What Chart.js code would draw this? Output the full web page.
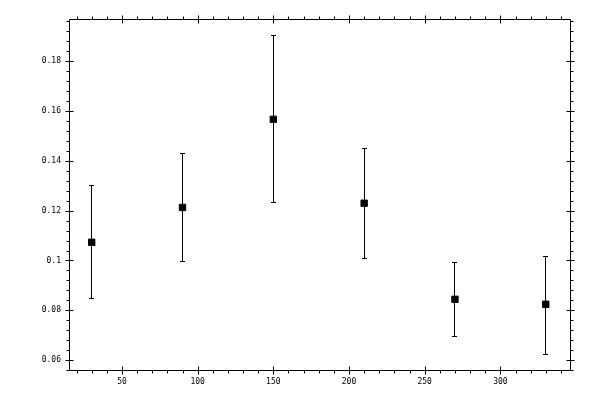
<!DOCTYPE html>
<html>
<head>
<meta charset="utf-8">
<script src="https://cdn.jsdelivr.net/npm/chart.js@4.4.0/dist/chart.umd.min.js"></script>
<style>
  html, body { margin: 0; padding: 0; background: #fff; }
  #wrap { width: 600px; height: 400px; }
</style>
</head>
<body>
<div id="wrap"><canvas id="grafico"></canvas></div>
<script>
// datos
var xVals = [30, 90, 150, 210, 270, 330];
var yVals = [0.1073, 0.1213, 0.1567, 0.1230, 0.0844, 0.0824];
var yHigh = [0.1302, 0.1430, 0.1905, 0.1451, 0.0993, 0.1018];
var yLow  = [0.0849, 0.0998, 0.1234, 0.1009, 0.0695, 0.0625];

// ticks
var xTicks = [50, 100, 150, 200, 250, 300];
var yTicks = [0.06, 0.08, 0.1, 0.12, 0.14, 0.16, 0.18];
var xMinorStep = 10;
var yMinorStep = 0.004;

var puntos = xVals.map(function(x, i) { return {x: x, y: yVals[i]}; });

// barras de error
var barrasError = {
  id: 'barrasError',
  beforeDatasetsDraw: function(chart) {
    var ctx = chart.ctx, xs = chart.scales.x, ys = chart.scales.y;
    ctx.save();
    ctx.strokeStyle = '#000';
    ctx.lineWidth = 1;
    ctx.beginPath();
    for (var i = 0; i < xVals.length; i++) {
      var px = Math.floor(xs.getPixelForValue(xVals[i])) + 0.5;
      var pt = Math.round(ys.getPixelForValue(yHigh[i])) + 0.5;
      var pb = Math.round(ys.getPixelForValue(yLow[i])) + 0.5;
      ctx.moveTo(px, pt); ctx.lineTo(px, pb);
      ctx.moveTo(px - 2.5, pt); ctx.lineTo(px + 2.5, pt);
      ctx.moveTo(px - 2.5, pb); ctx.lineTo(px + 2.5, pb);
    }
    ctx.stroke();
    ctx.restore();
  }
};

// marco y marcas en los cuatro lados
var marco = {
  id: 'marco',
  afterDraw: function(chart) {
    var ctx = chart.ctx, a = chart.chartArea;
    var xs = chart.scales.x, ys = chart.scales.y;
    var L = Math.round(a.left) + 0.5, R = Math.round(a.right) + 0.5;
    var T = Math.round(a.top) + 0.5, B = Math.round(a.bottom) + 0.5;
    ctx.save();
    ctx.strokeStyle = '#000';
    ctx.lineWidth = 1;
    ctx.beginPath();
    ctx.rect(L, T, R - L, B - T);

    // menores x
    var v, p;
    for (v = Math.ceil(xs.min / xMinorStep) * xMinorStep; v <= xs.max; v += xMinorStep) {
      p = Math.round(xs.getPixelForValue(v)) + 0.5;
      ctx.moveTo(p, B); ctx.lineTo(p, B + 3);
      ctx.moveTo(p, T); ctx.lineTo(p, T - 3);
    }
    xTicks.forEach(function(t) {
      p = Math.round(xs.getPixelForValue(t)) + 0.5;
      ctx.moveTo(p, B - 4); ctx.lineTo(p, B + 4);
      ctx.moveTo(p, T - 4); ctx.lineTo(p, T + 4);
    });

    // menores y
    for (var k = Math.ceil(ys.min / yMinorStep); k * yMinorStep <= ys.max; k++) {
      p = Math.round(ys.getPixelForValue(k * yMinorStep)) + 0.5;
      ctx.moveTo(L, p); ctx.lineTo(L - 3, p);
      ctx.moveTo(R, p); ctx.lineTo(R + 3, p);
    }
    yTicks.forEach(function(t) {
      p = Math.round(ys.getPixelForValue(t)) + 0.5;
      ctx.moveTo(L - 4, p); ctx.lineTo(L + 4, p);
      ctx.moveTo(R - 4, p); ctx.lineTo(R + 4, p);
    });
    ctx.stroke();
    ctx.restore();
  }
};

var fuente = { family: 'DejaVu Sans Mono', size: 8 };

var grafico = new Chart(document.getElementById('grafico'), {
  type: 'scatter',
  data: {
    datasets: [{
      data: puntos,
      pointStyle: 'rect',
      pointRadius: 4.5,
      pointHoverRadius: 4.5,
      backgroundColor: '#000',
      borderColor: '#000',
      borderWidth: 1
    }]
  },
  options: {
    responsive: true,
    maintainAspectRatio: false,
    animation: false,
    events: [],
    layout: { padding: { top: 19, right: 30, left: 0, bottom: 0 } },
    plugins: {
      legend: { display: false },
      tooltip: { enabled: false }
    },
    scales: {
      x: {
        type: 'linear',
        min: 15,
        max: 346,
        afterBuildTicks: function(s) { s.ticks = xTicks.map(function(v) { return {value: v}; }); },
        afterFit: function(s) { s.height = 30; },
        grid: { display: false, drawTicks: false },
        border: { display: false },
        ticks: { color: '#000', font: fuente, padding: 7, maxRotation: 0, autoSkip: false }
      },
      y: {
        type: 'linear',
        min: 0.056,
        max: 0.197,
        afterBuildTicks: function(s) { s.ticks = yTicks.map(function(v) { return {value: v}; }); },
        afterFit: function(s) { s.width = 69; },
        grid: { display: false, drawTicks: false },
        border: { display: false },
        ticks: {
          color: '#000', font: fuente, padding: 8, autoSkip: false,
          callback: function(v) { return String(parseFloat(v.toFixed(4))); }
        }
      }
    }
  },
  plugins: [barrasError, marco]
});
</script>
</body>
</html>
